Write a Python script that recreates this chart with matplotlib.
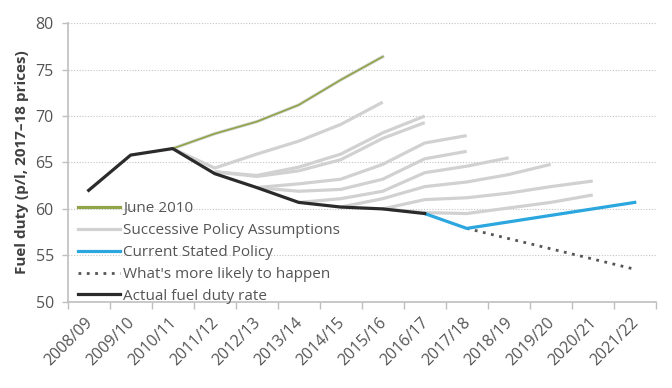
import matplotlib
matplotlib.use("Agg")
import matplotlib.pyplot as plt
import matplotlib.transforms as mtransforms
from matplotlib.lines import Line2D
import numpy as np

plt.rcParams['font.family'] = ['Open Sans', 'DejaVu Sans']

years = ["2008/09", "2009/10", "2010/11", "2011/12", "2012/13", "2013/14", "2014/15",
         "2015/16", "2016/17", "2017/18", "2018/19", "2019/20", "2020/21", "2021/22"]

# Actual fuel duty rate (2008/09 - 2016/17)
actual = [62.0, 65.8, 66.5, 63.8, 62.3, 60.7, 60.2, 60.0, 59.5]

# June 2010 forecast (2010/11 - 2015/16)
june2010_start = 2
june2010 = [66.5, 68.1, 69.4, 71.2, 73.9, 76.4]

# Successive policy assumptions: start index and values
sa1_start, sa1 = 2, [66.5, 64.4, 65.9, 67.3, 69.1, 71.5]
sa2_start, sa2 = 3, [64.0, 63.6, 64.5, 65.9, 68.2, 70.0]
sa3_start, sa3 = 3, [64.0, 63.5, 64.1, 65.3, 67.6, 69.3]
sa4_start, sa4 = 4, [62.3, 62.7, 63.2, 64.8, 67.1, 67.9]
sa5_start, sa5 = 4, [62.3, 61.9, 62.1, 63.2, 65.4, 66.2]
sa6_start, sa6 = 5, [60.7, 61.1, 61.9, 63.9, 64.6, 65.5]
sa7_start, sa7 = 6, [60.2, 61.1, 62.4, 62.9, 63.7, 64.8]
sa8_start, sa8 = 7, [60.0, 61.0, 61.2, 61.7, 62.4, 63.0]
sa9_start, sa9 = 7, [60.0, 59.6, 59.5, 60.1, 60.7, 61.5]

# Current stated policy (2016/17 - 2021/22)
current_start = 8
current = [59.5, 57.9, 58.6, 59.3, 60.0, 60.7]

# What's more likely to happen (2017/18 - 2021/22)
likely_start = 9
likely = [57.9, 56.8, 55.7, 54.6, 53.5]

yticks = [50, 55, 60, 65, 70, 75, 80]

GREY_TXT = "#555555"
C_GREEN = "#8fa548"
C_GREY = "#d2d1d2"
C_BLUE = "#2ba6de"
C_BLACK = "#2b2b2b"
C_DOT = "#555555"

fig = plt.figure(figsize=(6.72, 3.88), dpi=100)
ax = fig.add_axes([0.1007, 0.2224, 0.8751, 0.7176])

x = np.arange(len(years))

def xs(start, vals):
    return x[start:start + len(vals)]

for st, vals in [(sa1_start, sa1), (sa2_start, sa2), (sa3_start, sa3), (sa4_start, sa4),
                 (sa5_start, sa5), (sa6_start, sa6), (sa7_start, sa7), (sa8_start, sa8),
                 (sa9_start, sa9)]:
    ax.plot(xs(st, vals), vals, color=C_GREY, lw=2.3, solid_capstyle='butt', zorder=2)

ax.plot(xs(june2010_start, june2010), june2010, color=C_GREY, lw=2.3, zorder=2)
ax.plot(xs(june2010_start, june2010), june2010, color=C_GREEN, lw=1.2, zorder=3)
ax.plot(xs(likely_start, likely), likely, color=C_DOT, lw=2.0, ls=(0, (1, 2)), zorder=3)
ax.plot(xs(current_start, current), current, color=C_BLUE, lw=2.3, zorder=4)
ax.plot(x[:len(actual)], actual, color=C_BLACK, lw=2.3, zorder=5)

handles = [
    Line2D([], [], color=C_GREEN, lw=2.3),
    Line2D([], [], color=C_GREY, lw=2.3),
    Line2D([], [], color=C_BLUE, lw=2.3),
    Line2D([], [], color=C_DOT, lw=2.0, ls=(0, (1, 2))),
    Line2D([], [], color=C_BLACK, lw=2.3),
]
labels = ["June 2010", "Successive Policy Assumptions", "Current Stated Policy",
          "What's more likely to happen", "Actual fuel duty rate"]
leg = ax.legend(handles, labels, loc='lower left', bbox_to_anchor=(0.0, -0.046),
                frameon=False, fontsize=11, handlelength=2.75, handletextpad=0.2,
                labelspacing=0.45, borderaxespad=0.3)
for t in leg.get_texts():
    t.set_color(GREY_TXT)

ax.set_xlim(-0.5, len(years) - 0.5)
ax.set_ylim(50, 80)
ax.set_yticks(yticks)
ax.tick_params(axis='y', labelsize=11.5, colors=GREY_TXT, length=4, width=1, color="#bfbfbf", pad=6)

ax.set_xticks(np.arange(len(years) + 1) - 0.5)
ax.set_xticklabels([])
ax.tick_params(axis='x', which='major', length=5, width=1, color="#bfbfbf")
ax.set_xticks(x, minor=True)
ax.set_xticklabels(years, minor=True, rotation=45, ha='right', fontsize=11.5, color=GREY_TXT)
ax.tick_params(axis='x', which='minor', length=0, pad=9)
offset = mtransforms.ScaledTranslation(7 / 100, 0, fig.dpi_scale_trans)
for lab in ax.get_xticklabels(minor=True):
    lab.set_transform(lab.get_transform() + offset)

ax.grid(axis='y', color="#c4c4c4", ls=(0, (1, 1.5)), lw=0.8)
ax.set_axisbelow(True)
for s in ['top', 'right']:
    ax.spines[s].set_visible(False)
for s in ['left', 'bottom']:
    ax.spines[s].set_color("#bfbfbf")
    ax.spines[s].set_linewidth(1.2)

ax.set_ylabel("Fuel duty (p/l, 2017\u201318 prices)", fontsize=11, fontweight='bold',
              color="#404040", labelpad=5)

fig.savefig("out.png", dpi=100)
